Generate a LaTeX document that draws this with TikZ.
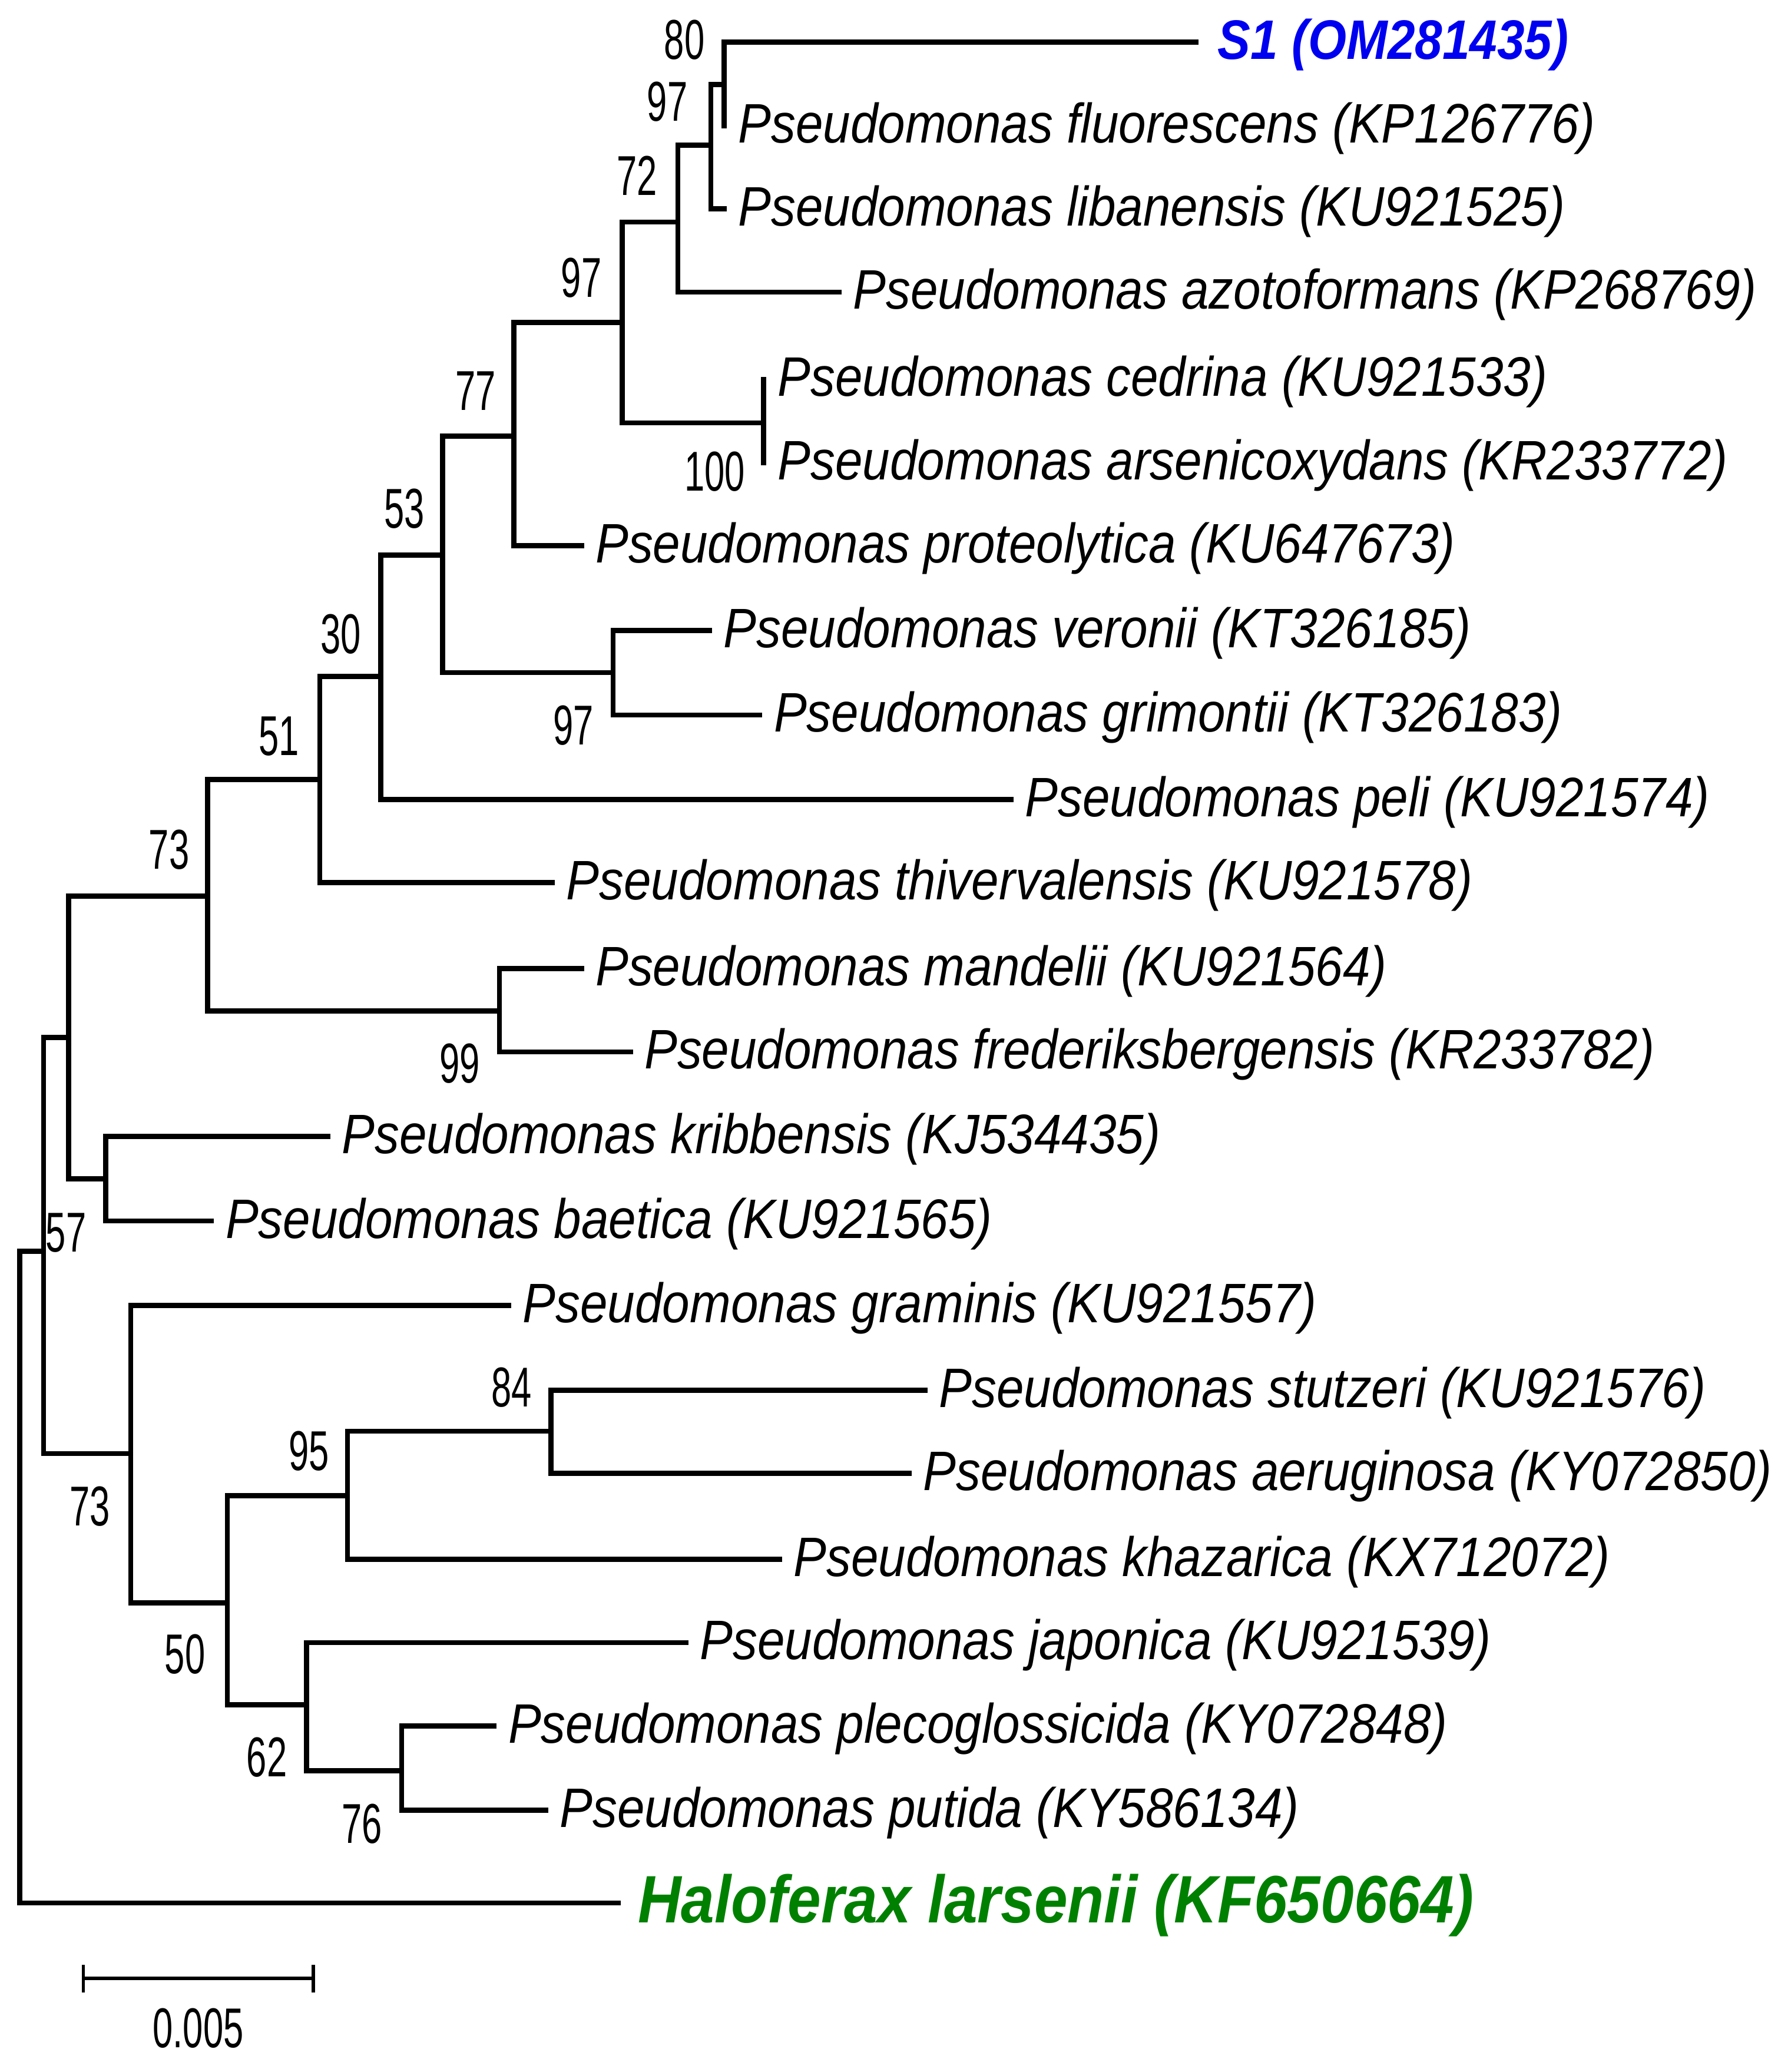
\documentclass[tikz,border=0pt]{standalone}
\usepackage{fontspec}
\setmainfont{Liberation Sans}
\usepackage{xcolor}
\definecolor{sampleblue}{RGB}{0,0,240}
\definecolor{outgreen}{RGB}{0,128,0}
\tikzstyle{branch} = [line width=1.1pt, line cap=rect]
\tikzstyle{taxon} = [anchor=west, inner sep=0pt, xshift=0.1cm, yshift=-0.02cm, font=\fontsize{10.6}{12}\selectfont\itshape, yscale=1.13]
\tikzstyle{sample} = [taxon, xshift=0.06cm, font=\fontsize{10.6}{12}\selectfont\bfseries\itshape, text=sampleblue]
\tikzstyle{outgroup} = [taxon, xshift=0.04cm, font=\fontsize{12.9}{15}\selectfont\bfseries\itshape, text=outgreen, yscale=0.99]
\tikzstyle{boot} = [inner sep=0pt, font=\fontsize{7.8}{9}\selectfont, yscale=1.55]
\tikzstyle{scalebar} = [line width=0.7pt]

\begin{document}
\begin{tikzpicture}[x=0.01cm, y=-0.01cm]
\useasboundingbox (0,0) rectangle (1355,1568);

% Internal nodes
\coordinate (root) at (15,1194);
\coordinate (n57) at (33,947);
\coordinate (nUp) at (52,785);
\coordinate (n73a) at (157,678);
\coordinate (n51) at (242,590);
\coordinate (n30) at (288,512);
\coordinate (n53) at (335,420);
\coordinate (n77) at (389,330);
\coordinate (n97b) at (471,244);
\coordinate (n72) at (513,168);
\coordinate (n97a) at (538,110);
\coordinate (n80) at (548,64);
\coordinate (n100) at (578,320);
\coordinate (n97c) at (464,509);
\coordinate (n99) at (378,765);
\coordinate (nKB) at (80,892);
\coordinate (n73b) at (99,1100);
\coordinate (n50) at (172,1213);
\coordinate (n95) at (263,1132);
\coordinate (n84) at (417,1083);
\coordinate (n62) at (232,1290);
\coordinate (n76) at (304,1340);

% Leaf tips
\coordinate (tS1) at (905,32);
\coordinate (tFluo) at (548,95);
\coordinate (tLiba) at (548,158);
\coordinate (tAzot) at (635,221);
\coordinate (tCedr) at (578,287);
\coordinate (tArse) at (578,350);
\coordinate (tProt) at (440,413);
\coordinate (tVero) at (537,477);
\coordinate (tGrim) at (575,541);
\coordinate (tPeli) at (765,605);
\coordinate (tThiv) at (418,668);
\coordinate (tMand) at (440,733);
\coordinate (tFred) at (477,796);
\coordinate (tKrib) at (248,860);
\coordinate (tBaet) at (160,924);
\coordinate (tGram) at (385,988);
\coordinate (tStut) at (700,1052);
\coordinate (tAeru) at (688,1115);
\coordinate (tKhaz) at (590,1180);
\coordinate (tJapo) at (519,1243);
\coordinate (tPlec) at (374,1306);
\coordinate (tPuti) at (413,1370);
\coordinate (tHalo) at (468,1440);

% Taxa
\node (S1) [sample] at (tS1) {S1 (OM281435)};
\node (fluo) [taxon] at (tFluo) {Pseudomonas fluorescens (KP126776)};
\node (liba) [taxon] at (tLiba) {Pseudomonas libanensis (KU921525)};
\node (azot) [taxon] at (tAzot) {Pseudomonas azotoformans (KP268769)};
\node (cedr) [taxon] at (tCedr) {Pseudomonas cedrina (KU921533)};
\node (arse) [taxon] at (tArse) {Pseudomonas arsenicoxydans (KR233772)};
\node (prot) [taxon] at (tProt) {Pseudomonas proteolytica (KU647673)};
\node (vero) [taxon] at (tVero) {Pseudomonas veronii (KT326185)};
\node (grim) [taxon] at (tGrim) {Pseudomonas grimontii (KT326183)};
\node (peli) [taxon] at (tPeli) {Pseudomonas peli (KU921574)};
\node (thiv) [taxon] at (tThiv) {Pseudomonas thivervalensis (KU921578)};
\node (mand) [taxon] at (tMand) {Pseudomonas mandelii (KU921564)};
\node (fred) [taxon] at (tFred) {Pseudomonas frederiksbergensis (KR233782)};
\node (krib) [taxon] at (tKrib) {Pseudomonas kribbensis (KJ534435)};
\node (baet) [taxon] at (tBaet) {Pseudomonas baetica (KU921565)};
\node (gram) [taxon] at (tGram) {Pseudomonas graminis (KU921557)};
\node (stut) [taxon] at (tStut) {Pseudomonas stutzeri (KU921576)};
\node (aeru) [taxon] at (tAeru) {Pseudomonas aeruginosa (KY072850)};
\node (khaz) [taxon] at (tKhaz) {Pseudomonas khazarica (KX712072)};
\node (japo) [taxon] at (tJapo) {Pseudomonas japonica (KU921539)};
\node (plec) [taxon] at (tPlec) {Pseudomonas plecoglossicida (KY072848)};
\node (puti) [taxon] at (tPuti) {Pseudomonas putida (KY586134)};
\node (halo) [outgroup] at (tHalo) {Haloferax larsenii (KF650664)};

% Branches
\draw [branch] (root) |- (n57);
\draw [branch] (root) |- (tHalo);
\draw [branch] (n57) |- (nUp);
\draw [branch] (n57) |- (n73b);
\draw [branch] (nUp) |- (n73a);
\draw [branch] (nUp) |- (nKB);
\draw [branch] (nKB) |- (tKrib);
\draw [branch] (nKB) |- (tBaet);
\draw [branch] (n73a) |- (n51);
\draw [branch] (n73a) |- (n99);
\draw [branch] (n99) |- (tMand);
\draw [branch] (n99) |- (tFred);
\draw [branch] (n51) |- (n30);
\draw [branch] (n51) |- (tThiv);
\draw [branch] (n30) |- (n53);
\draw [branch] (n30) |- (tPeli);
\draw [branch] (n53) |- (n77);
\draw [branch] (n53) |- (n97c);
\draw [branch] (n97c) |- (tVero);
\draw [branch] (n97c) |- (tGrim);
\draw [branch] (n77) |- (n97b);
\draw [branch] (n77) |- (tProt);
\draw [branch] (n97b) |- (n72);
\draw [branch] (n97b) |- (n100);
\draw [branch] (n100) |- (tCedr);
\draw [branch] (n100) |- (tArse);
\draw [branch] (n72) |- (n97a);
\draw [branch] (n72) |- (tAzot);
\draw [branch] (n97a) |- (n80);
\draw [branch] (n97a) |- (tLiba);
\draw [branch] (n80) |- (tS1);
\draw [branch] (n80) |- (tFluo);
\draw [branch] (n73b) |- (tGram);
\draw [branch] (n73b) |- (n50);
\draw [branch] (n50) |- (n95);
\draw [branch] (n50) |- (n62);
\draw [branch] (n95) |- (n84);
\draw [branch] (n95) |- (tKhaz);
\draw [branch] (n84) |- (tStut);
\draw [branch] (n84) |- (tAeru);
\draw [branch] (n62) |- (tJapo);
\draw [branch] (n62) |- (n76);
\draw [branch] (n76) |- (tPlec);
\draw [branch] (n76) |- (tPuti);

% Bootstrap values
\node (b80) [boot] at (518,30) {80};
\node (b97a) [boot] at (505,77) {97};
\node (b72) [boot] at (482,133) {72};
\node (b97b) [boot] at (440,210) {97};
\node (b77) [boot] at (360,296) {77};
\node (b100) [boot] at (541,357) {100};
\node (b53) [boot] at (306,385) {53};
\node (b30) [boot] at (258,480) {30};
\node (b97c) [boot] at (434,549) {97};
\node (b51) [boot] at (211,557) {51};
\node (b73a) [boot] at (128,643) {73};
\node (b99) [boot] at (348,805) {99};
\node (b57) [boot] at (50,933) {57};
\node (b84) [boot] at (387,1050) {84};
\node (b95) [boot] at (234,1098) {95};
\node (b73b) [boot] at (68,1140) {73};
\node (b50) [boot] at (140,1252) {50};
\node (b62) [boot] at (202,1330) {62};
\node (b76) [boot] at (274,1380) {76};

% Scale bar
\draw [scalebar] (63,1487) -- (63,1508) (63,1497) -- (237,1497) (237,1487) -- (237,1508);
\node (barlabel) [boot] at (150,1535) {0.005};

\end{tikzpicture}
\end{document}
